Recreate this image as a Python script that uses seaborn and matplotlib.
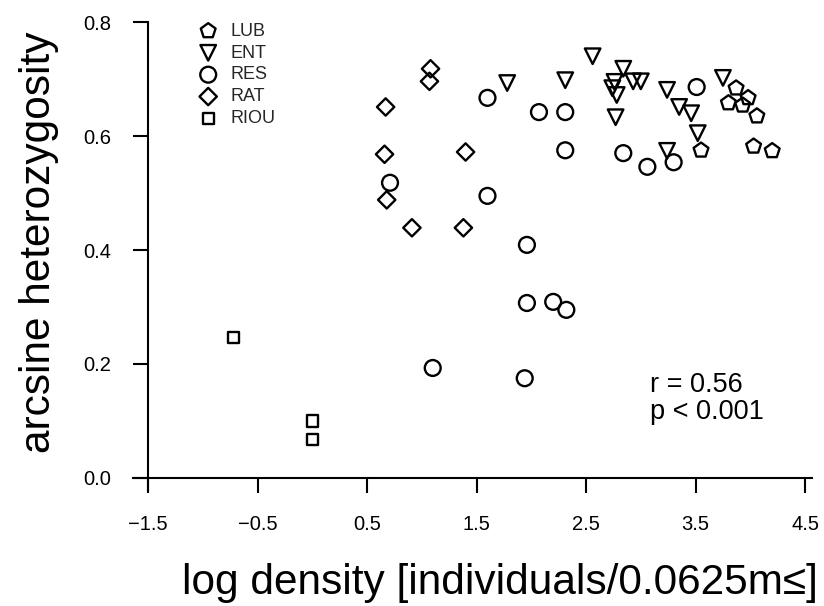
import numpy as np
import pandas as pd
import matplotlib
matplotlib.use("Agg")
import matplotlib.pyplot as plt
import seaborn as sns

# ---- data ----
lub_x = [3.87, 3.80, 3.93, 3.98, 4.06, 3.55, 4.03, 4.20]
lub_y = [0.684, 0.658, 0.654, 0.667, 0.635, 0.575, 0.582, 0.574]

ent_x = [2.56, 1.78, 2.31, 2.84, 2.76, 2.74, 2.78, 2.93, 3.00, 3.24, 3.35, 3.46, 3.52, 2.77, 3.24, 3.75]
ent_y = [0.740, 0.693, 0.698, 0.718, 0.695, 0.684, 0.672, 0.696, 0.696, 0.681, 0.651, 0.640, 0.605, 0.633, 0.574, 0.702]

res_x = [0.71, 1.60, 2.07, 2.31, 2.31, 1.60, 2.84, 3.06, 3.30, 3.51, 1.96, 1.96, 2.20, 2.32, 1.10, 1.94]
res_y = [0.518, 0.667, 0.642, 0.642, 0.575, 0.495, 0.570, 0.546, 0.554, 0.686, 0.409, 0.307, 0.309, 0.295, 0.193, 0.175]

rat_x = [1.08, 1.07, 0.67, 0.66, 0.68, 0.91, 1.40, 1.38]
rat_y = [0.718, 0.696, 0.651, 0.568, 0.488, 0.439, 0.572, 0.439]

riou_x = [-0.72, 0.0, 0.0]
riou_y = [0.246, 0.100, 0.068]

groups = ["LUB", "ENT", "RES", "RAT", "RIOU"]
xticks = [-1.5, -0.5, 0.5, 1.5, 2.5, 3.5, 4.5]
yticks = [0.0, 0.2, 0.4, 0.6, 0.8]

series = {
    "LUB": (lub_x, lub_y),
    "ENT": (ent_x, ent_y),
    "RES": (res_x, res_y),
    "RAT": (rat_x, rat_y),
    "RIOU": (riou_x, riou_y),
}
markers = {"LUB": "p", "ENT": "v", "RES": "o", "RAT": "D", "RIOU": "s"}
msizes = {"LUB": 125, "ENT": 125, "RES": 130, "RAT": 78, "RIOU": 66}

sns.set_theme(style="ticks")
plt.rcParams["font.family"] = ["Liberation Sans", "DejaVu Sans"]

fig = plt.figure(figsize=(8.24, 6.06), dpi=100)
ax = fig.add_axes([0.161, 0.1906, 0.824, 0.773])

for g in groups:
    xs, ys = series[g]
    df = pd.DataFrame({"x": xs, "y": ys})
    sns.scatterplot(data=df, x="x", y="y", ax=ax, marker=markers[g], s=msizes[g],
                    facecolor="none", edgecolor="black", linewidth=1.7, label=g)

ax.set_xlim(-1.64, 4.56)
ax.set_ylim(-0.022, 0.8)
ax.spines["left"].set_position(("data", -1.5))
ax.spines["bottom"].set_position(("data", 0.0))
ax.spines["top"].set_visible(False)
ax.spines["right"].set_visible(False)
for s in ("left", "bottom"):
    ax.spines[s].set_linewidth(1.5)
    ax.spines[s].set_color("black")

ax.set_xticks(xticks)
ax.set_yticks(yticks)
ax.set_xticklabels([f"{t:.1f}".replace("-", "\u2212") for t in xticks])
ax.set_yticklabels([f"{t:.1f}" for t in yticks])
ax.tick_params(axis="both", direction="out", length=10.5, width=1.5, color="black",
               labelsize=14.5, pad=16, labelcolor="black")

ax.set_xlabel("log density [individuals/0.0625m\u2264]", fontsize=30.5, color="black")
ax.xaxis.set_label_coords(0.541, -0.155)
ax.set_ylabel("arcsine heterozygosity", fontsize=30.5, color="black")
ax.yaxis.set_label_coords(-0.108, 0.53)

ax.text(3.08, 0.139, "r = 0.56\np < 0.001", fontsize=19.5, ha="left", va="center",
        linespacing=1.04, color="black")

leg = ax.legend(loc="upper left", bbox_to_anchor=(0.082, 1.018), frameon=False,
                fontsize=13, handlelength=1.2, handletextpad=0.62, labelspacing=0.27,
                scatterpoints=1, borderpad=0)

fig.savefig("out.png", dpi=100, facecolor="white")
